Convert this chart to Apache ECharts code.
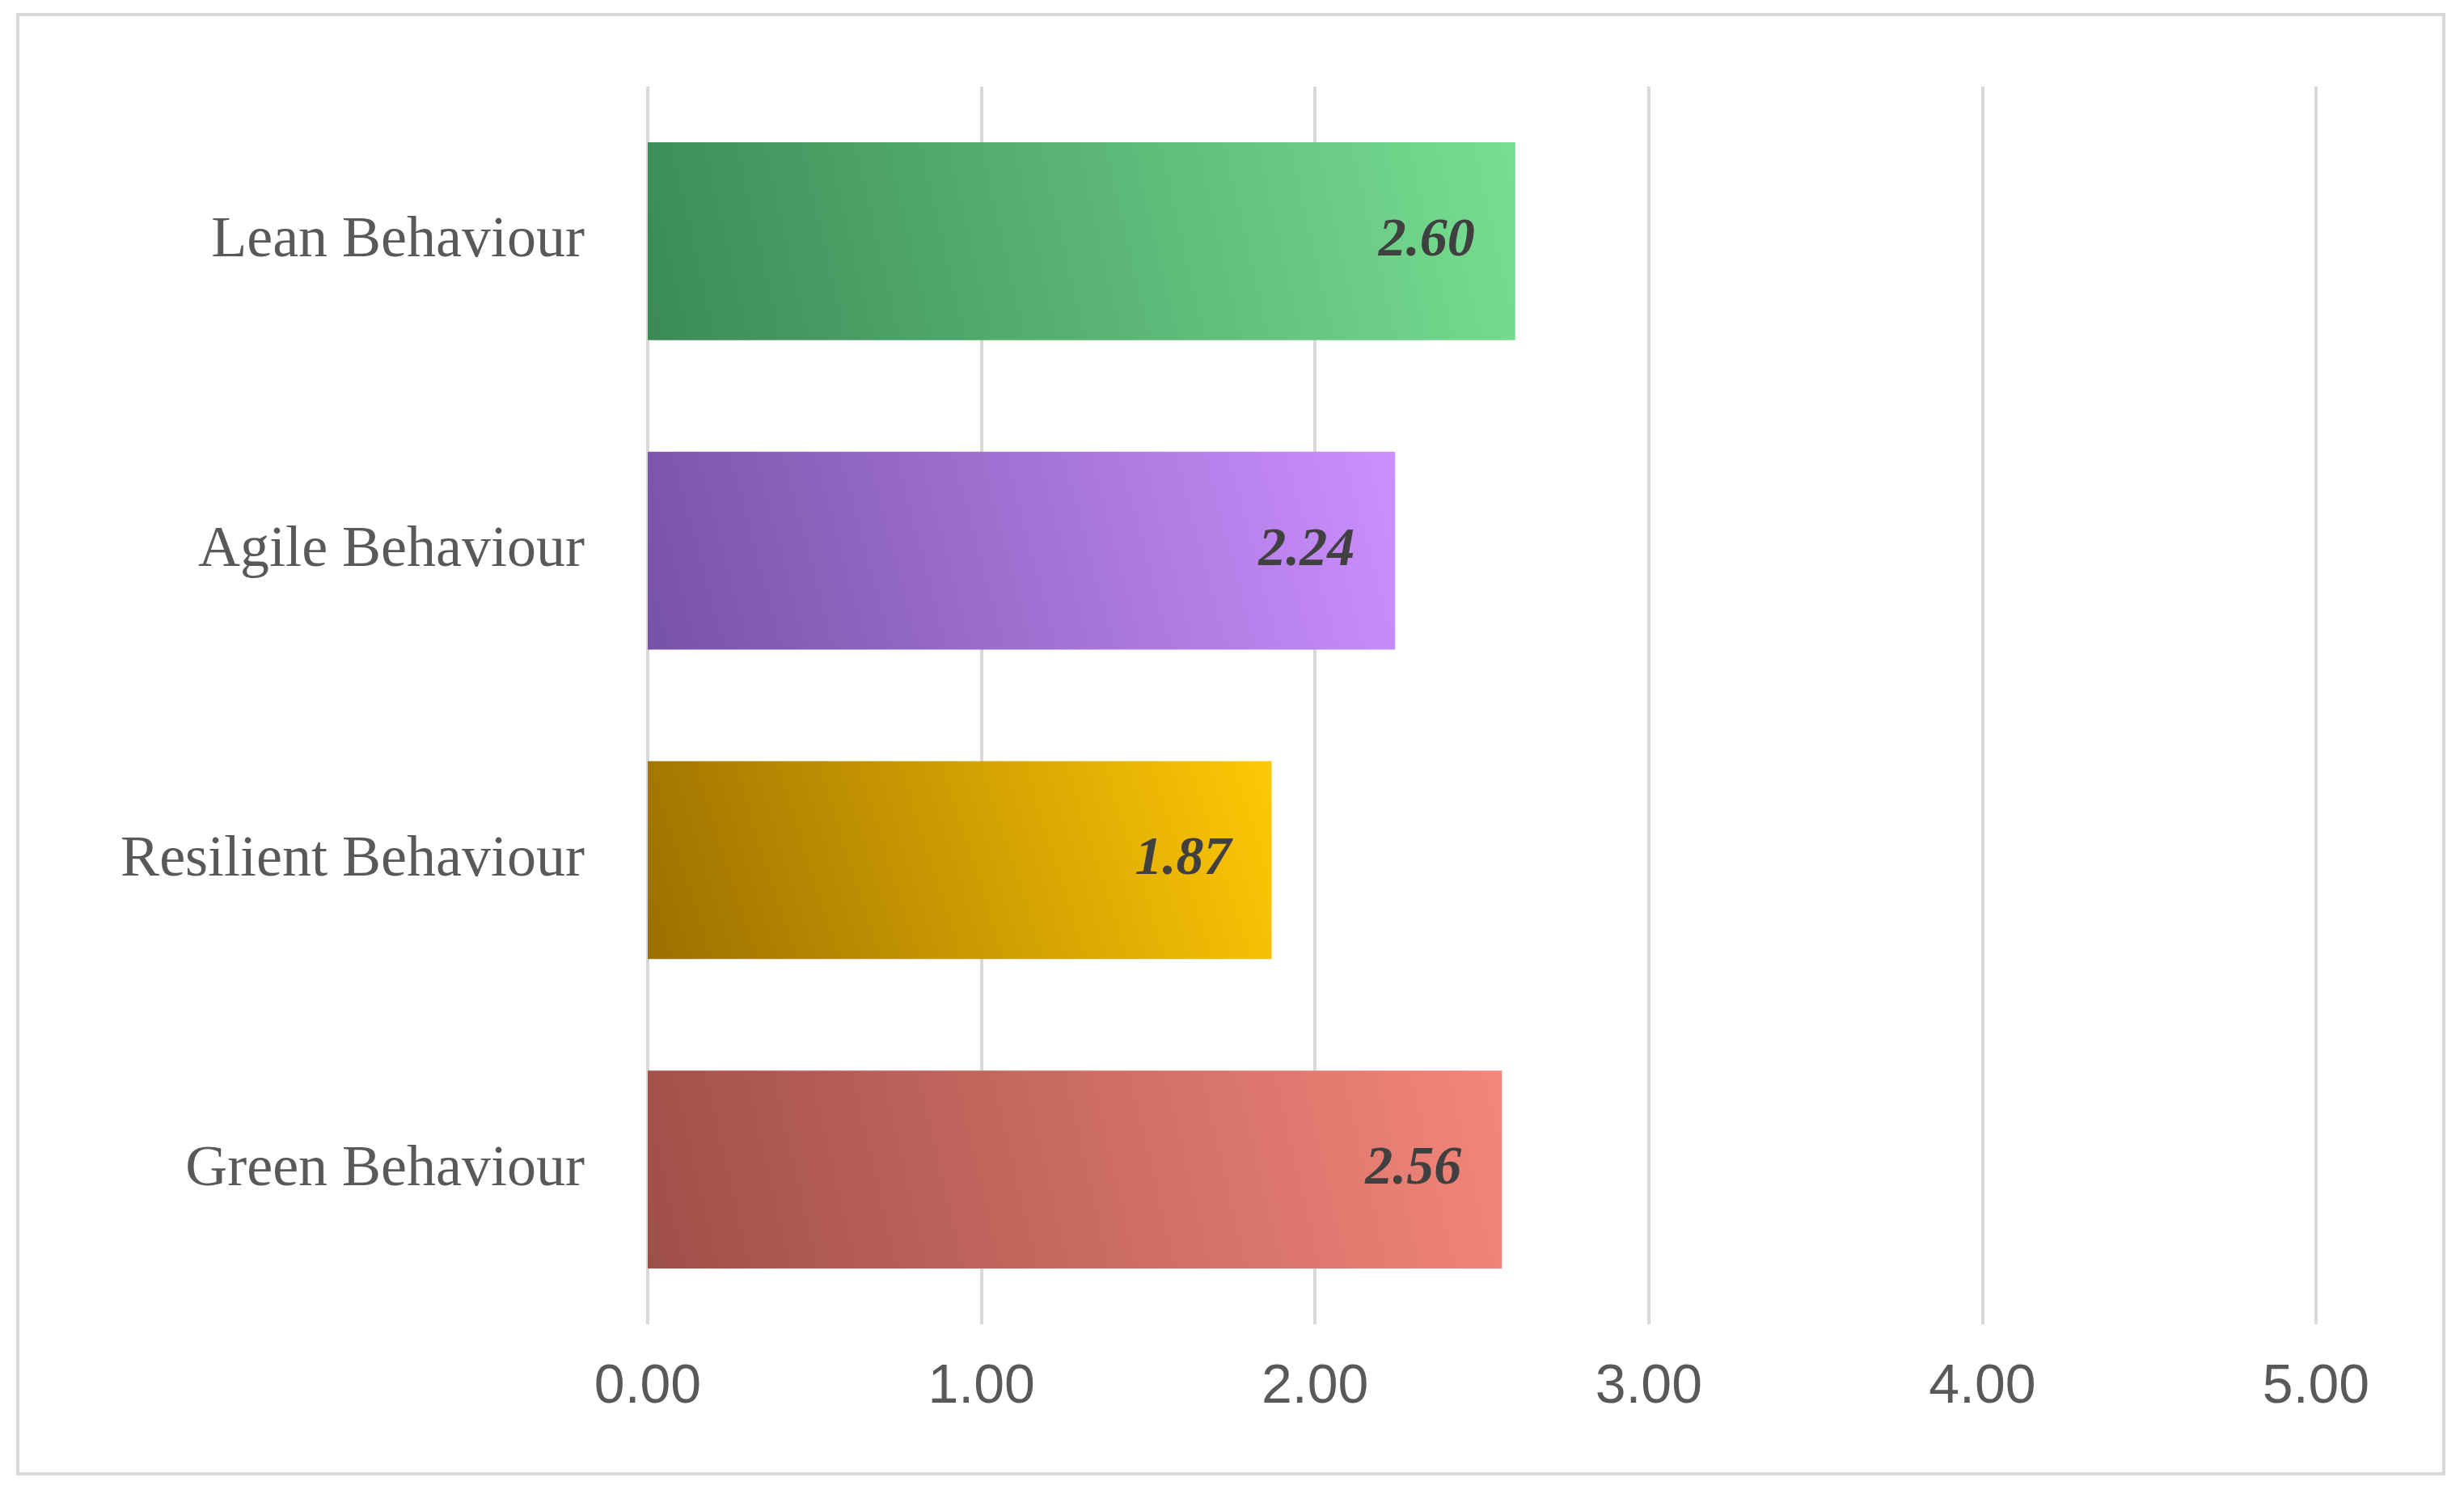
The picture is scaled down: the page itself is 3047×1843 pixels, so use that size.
<!DOCTYPE html>
<html>
<head>
<meta charset="utf-8">
<script src="https://cdn.jsdelivr.net/npm/echarts@6/dist/echarts.min.js"></script>
<style>
  html, body { margin: 0; padding: 0; background: #fff; }
  #frame { position: absolute; left: 20px; top: 16px; width: 3004px; height: 1809px; border: 4px solid #d9d9d9; box-sizing: border-box; }
  #chart { position: absolute; left: 0; top: 0; width: 3047px; height: 1843px; }
</style>
</head>
<body>
<div id="frame"></div>
<div id="chart"></div>
<script>
  // 类别与数值（自下而上）
  const categories = ['Green Behaviour', 'Resilient Behaviour', 'Agile Behaviour', 'Lean Behaviour']
  const values = [2.56, 1.87, 2.24, 2.60]
  const xTicks = [0, 1, 2, 3, 4, 5]
  // 渐变色：右上亮色 -> 左下暗色
  const lightColors = ['#f4867b', '#ffc805', '#cc8fff', '#78de92']
  const darkColors = ['#9e4f48', '#9a6f00', '#7652a6', '#3b8a56']

  let chart = echarts.init(document.getElementById('chart'))
  chart.setOption({
    animation: false,
    grid: { left: 801, right: 183, top: 107, bottom: 205 },
    xAxis: {
      type: 'value',
      min: xTicks[0],
      max: xTicks[xTicks.length - 1],
      interval: 1,
      axisLine: { show: false },
      axisTick: { show: false },
      splitLine: { lineStyle: { color: '#d9d9d9', width: 4 } },
      axisLabel: {
        formatter: (v) => v.toFixed(2),
        fontFamily: 'Liberation Sans',
        fontSize: 68,
        color: '#595959',
        margin: 44,
      },
    },
    yAxis: {
      type: 'category',
      data: categories,
      axisLine: { show: false },
      axisTick: { show: false },
      axisLabel: {
        fontFamily: 'Liberation Serif',
        fontSize: 72,
        color: '#595959',
        margin: 78,
      },
    },
    series: [
      {
        type: 'bar',
        barWidth: '64%',
        data: values.map((v, i) => ({
          value: v,
          itemStyle: {
            color: new echarts.graphic.LinearGradient(0, 1, 1, 0, [
              { offset: 0, color: darkColors[i] },
              { offset: 1, color: lightColors[i] },
            ]),
          },
        })),
        label: {
          show: true,
          position: 'insideRight',
          distance: 50,
          formatter: (p) => p.value.toFixed(2),
          fontFamily: 'Liberation Serif',
          fontStyle: 'italic',
          fontWeight: 'bold',
          fontSize: 68,
          color: '#404040',
        },
      },
    ],
  })
</script>
</body>
</html>
